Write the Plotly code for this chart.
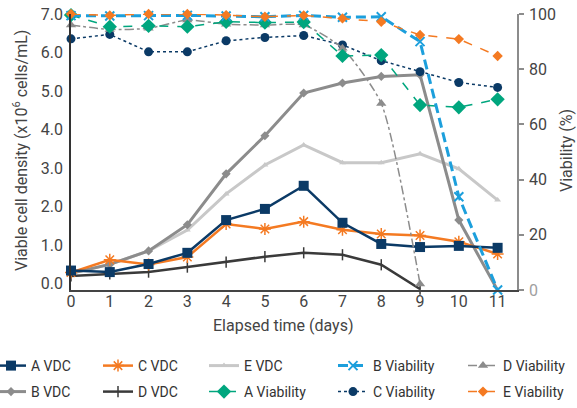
import plotly.graph_objects as go

days = list(range(12))

# Viable cell density (x10^6 cells/mL)
a_vdc = [0.34, 0.30, 0.51, 0.80, 1.65, 1.94, 2.54, 1.58, 1.03, 0.95, 0.98, 0.93]
b_vdc = [0.27, 0.50, 0.85, 1.53, 2.85, 3.84, 4.95, 5.21, 5.38, 5.42, 1.65, -0.17]
c_vdc = [0.29, 0.62, 0.50, 0.69, 1.55, 1.42, 1.61, 1.40, 1.29, 1.25, 1.09, 0.77]
d_vdc = [0.20, 0.25, 0.30, 0.43, 0.56, 0.70, 0.80, 0.75, 0.49, -0.14]
e_vdc = [0.27, 0.50, 0.85, 1.39, 2.33, 3.08, 3.60, 3.14, 3.14, 3.37, 2.98, 2.17]

# Viability (%)
a_via = [99.6, 95.4, 95.7, 95.4, 97.2, 96.9, 97.1, 84.8, 85.1, 67.0, 66.2, 69.1]
b_via = [99.4, 99.3, 99.4, 99.5, 99.3, 99.0, 99.5, 98.8, 99.0, 90.0, 33.8, 0.0]
c_via = [91.0, 92.6, 86.3, 86.3, 90.3, 91.5, 92.2, 88.8, 83.1, 79.1, 75.2, 73.4]
d_via = [96.0, 94.4, 94.8, 97.8, 96.3, 96.0, 96.0, 87.6, 67.6, 2.2]
e_via = [100.0, 99.5, 100.0, 100.0, 99.6, 99.0, 99.5, 98.4, 97.2, 92.4, 90.9, 84.8]

left_ticks = [0, 1, 2, 3, 4, 5, 6, 7]
right_ticks = [0, 20, 40, 60, 80, 100]

NAVY = "#0b3a66"
ORANGE = "#f47a22"
LGREY = "#c8c8c8"
GREY = "#8c8c8c"
DARK = "#3a3a3a"
BLUE = "#1c9fdc"
GREEN = "#00a67e"
FONT = "Roboto"

W, H = 577, 408
# plot area in page pixels: x 71..517, y 14..290
ML, MR, MT, MB = 71, W - 517, 14, H - 290
PW, PH = W - ML - MR, H - MT - MB

fig = go.Figure()

def add(name, y, axis, color, width, dash, symbol, msize, legend, mline=None, shape="linear"):
    marker = dict(symbol=symbol, size=msize, color=color)
    if mline:
        marker["line"] = dict(color=color, width=mline)
    fig.add_trace(go.Scatter(
        x=days[:len(y)], y=y, name=name, yaxis=axis, mode="lines+markers",
        line=dict(color=color, width=width, dash=dash, shape=shape, smoothing=0.6),
        marker=marker, cliponaxis=False, legend=legend))

# VDC traces (left axis)
add("E VDC", e_vdc, "y", LGREY, 3, "solid", "triangle-up", 6, "legend3")
add("B VDC", b_vdc, "y", GREY, 3, "solid", "diamond", 7, "legend2")
add("D VDC", d_vdc, "y", DARK, 2.5, "solid", "line-ns-open", 8, "legend4", mline=1.5)
add("C VDC", c_vdc, "y", ORANGE, 2.5, "solid", "asterisk-open", 10, "legend5", mline=1.5)
add("A VDC", a_vdc, "y", NAVY, 2.5, "solid", "square", 10, "legend")

# Viability traces (right axis)
add("C Viability", c_via, "y2", NAVY, 1.5, "dot", "circle", 9, "legend7")
add("D Viability", d_via, "y2", GREY, 1.5, "dashdot", "triangle-up", 9, "legend9", shape="spline")
add("A Viability", a_via, "y2", GREEN, 1.5, "dash", "diamond", 11, "legend6")
add("B Viability", b_via, "y2", BLUE, 3, "10px,5px", "x-thin-open", 9, "legend8", mline=2)
add("E Viability", e_via, "y2", ORANGE, 1.5, "dash", "diamond", 8, "legend10")

# one legend per entry so the 5x2 grid matches the reference (page pixel positions)
LEG_INSET = 9
legend_pos = {
    "legend": (0, 366), "legend2": (0, 392),
    "legend5": (107, 366), "legend4": (107, 392),
    "legend3": (213, 366), "legend6": (213, 392),
    "legend8": (342, 366), "legend7": (342, 392),
    "legend9": (472, 366), "legend10": (472, 392),
}

def px_to_paper(px, py):
    return (px - ML) / PW, (H - MB - py) / PH

layout_legends = {}
for key, (px, py) in legend_pos.items():
    lx, ly = px_to_paper(px - LEG_INSET, py)
    layout_legends[key] = dict(
        x=lx, y=ly, xref="paper", yref="paper",
        xanchor="left", yanchor="middle", orientation="v",
        font=dict(family=FONT, size=14, color="#333333"),
        bgcolor="rgba(0,0,0,0)", borderwidth=0, itemwidth=30)

anns = []
for text, px, py, ang in [("Elapsed time (days)", 283.5, 325, 0),
                          ("Viable cell density (x10<sup>6</sup> cells/mL)", 20, 151, -90),
                          ("Viability (%)", 566, 151, -90)]:
    ax, ay = px_to_paper(px, py)
    anns.append(dict(text=text, x=ax, y=ay, xref="paper", yref="paper", showarrow=False,
                     textangle=ang, font=dict(family=FONT, size=16, color="#444444"),
                     xanchor="center", yanchor="middle"))

fig.update_layout(
    width=W, height=H,
    margin=dict(l=ML, r=MR, t=MT, b=MB, autoexpand=False),
    paper_bgcolor="white", plot_bgcolor="white",
    font=dict(family=FONT, size=16, color="#444444"),
    showlegend=True,
    xaxis=dict(range=[0, 11.5], tickvals=days, showgrid=False, zeroline=False,
               showline=True, linecolor="#444444", linewidth=1.5, ticks="",
               ticklabelstandoff=-4, ticklabeloverflow="allow",
               tickfont=dict(size=16, color="#444444")),
    yaxis=dict(range=[-0.165, 7.0], tickvals=left_ticks, tickformat=".1f",
               showgrid=False, zeroline=False, showline=True, linecolor="#333333",
               linewidth=1.5, ticks="", ticklabelstandoff=3, ticklabeloverflow="allow",
               tickfont=dict(size=16, color="#444444")),
    yaxis2=dict(range=[0, 100], overlaying="y", side="right", tickvals=right_ticks,
                ticktext=['<span style="color:#a0a0a0">0</span>', "20", "40", "60", "80", "100"],
                showgrid=False, zeroline=False, showline=True, linecolor="#8c8c8c",
                linewidth=1.5, ticks="outside", ticklen=5, tickcolor="#8c8c8c",
                tickwidth=1.5, ticklabelstandoff=2, ticklabeloverflow="allow",
                tickfont=dict(size=16, color="#444444")),
    annotations=anns,
    **layout_legends,
)

# place the figure at the window's top-left corner (remove the default body margin)
fig.write_html("out.html", config={"displayModeBar": False},
               post_script="document.body.style.margin='0';")
